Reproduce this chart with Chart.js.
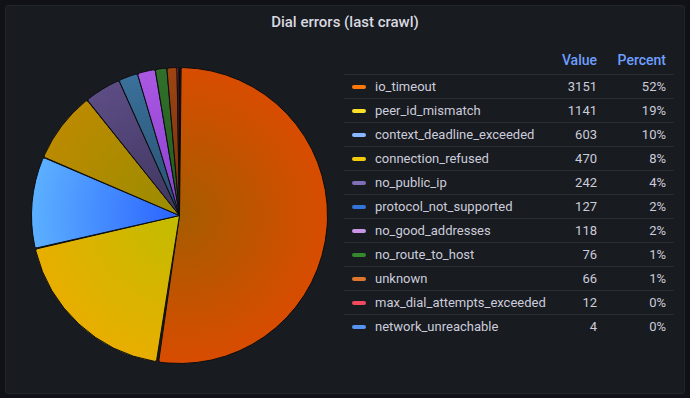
<!DOCTYPE html>
<html>
<head>
<meta charset="utf-8">
<script src="https://cdn.jsdelivr.net/npm/chart.js@4/dist/chart.umd.min.js"></script>
<style>
  html, body { margin: 0; padding: 0; background: #111217; width: 690px; height: 398px; overflow: hidden; }
  body { font-family: Roboto, "Noto Sans", sans-serif; color: #ccccdc; }
  .panel { position: absolute; left: 5px; top: 5px; width: 678px; height: 387px; background: #181b1f; border: 1px solid #22252b; border-radius: 3px; }
  .title { position: absolute; left: 0; top: 7px; width: 100%; text-align: center; font-size: 15px; font-weight: 500; color: #d8d9e0; }
  #pieWrap { position: absolute; left: 25px; top: 61px; width: 297px; height: 297px; }
  #legend { position: absolute; left: 338px; top: 42px; width: 330px; font-size: 13px; }
  .row { position: relative; height: 23px; border-bottom: 1px solid #2a2d33; }
  .row:last-child { border-bottom: none; }
  .head { height: 26px; }
  .head span { position: absolute; top: 4px; color: #6e9fff; font-size: 14px; font-weight: 500; }
  .sw { position: absolute; left: 8px; top: 10px; width: 14px; height: 4px; border-radius: 2px; }
  .lab { position: absolute; left: 31px; top: 4px; }
  .val { position: absolute; right: 77px; top: 4px; text-align: right; }
  .pct { position: absolute; right: 8px; top: 4px; text-align: right; }
</style>
</head>
<body>
<div class="panel">
  <div class="title">Dial errors (last crawl)</div>
  <div id="pieWrap"><canvas id="pie"></canvas></div>
  <div id="legend"></div>
</div>
<script>
// data
var labels = ["io_timeout", "peer_id_mismatch", "context_deadline_exceeded", "connection_refused",
  "no_public_ip", "protocol_not_supported", "no_good_addresses", "no_route_to_host",
  "unknown", "max_dial_attempts_exceeded", "network_unreachable"];
var values = [3151, 1141, 603, 470, 242, 127, 118, 76, 66, 12, 4];

// legend swatch colours and pie gradient stops (center -> edge)
var swatch = ["#ff780a", "#fade2a", "#8ab8ff", "#f2cc0c", "#806eb7", "#3274d9", "#ca95e5", "#37872d", "#e0752d", "#f2495c", "#5794f2"];
var inner = ["#a65c00", "#c2bc00", "#2a62ff", "#9a8c00", "#3f365e", "#27506e", "#8a3ed0", "#225a1c", "#76300c", "#c02040", "#3a66d0"];
var outer = ["#d84c00", "#e8ae00", "#5cb0ff", "#bb8a00", "#5c4c84", "#3a709a", "#aa58e2", "#30702a", "#9e4412", "#e8304c", "#4a7ae8"];

var total = values.reduce(function (a, b) { return a + b; }, 0);

// legend table
var legend = document.getElementById("legend");
var html = '<div class="row head"><span style="right:77px">Value</span><span style="right:8px">Percent</span></div>';
labels.forEach(function (name, i) {
  html += '<div class="row">' +
    '<div class="sw" style="background:' + swatch[i] + '"></div>' +
    '<div class="lab">' + name + '</div>' +
    '<div class="val">' + values[i] + '</div>' +
    '<div class="pct">' + Math.round(values[i] / total * 100) + '%</div>' +
    '</div>';
});
legend.innerHTML = html;

function sliceFill(ctx) {
  var chart = ctx.chart;
  var area = chart.chartArea;
  var i = ctx.dataIndex;
  if (!area) return outer[i];
  var cx = (area.left + area.right) / 2;
  var cy = (area.top + area.bottom) / 2;
  var r = Math.min(area.right - area.left, area.bottom - area.top) / 2;
  var g = chart.ctx.createRadialGradient(cx, cy, 0, cx, cy, r);
  g.addColorStop(0, inner[i]);
  g.addColorStop(1, outer[i]);
  return g;
}

new Chart(document.getElementById("pie").getContext("2d"), {
  type: "pie",
  data: {
    labels: labels,
    datasets: [{
      data: values,
      backgroundColor: sliceFill,
      borderColor: "#0c0d10",
      borderWidth: 1,
      borderRadius: 2,
      spacing: 1
    }]
  },
  options: {
    responsive: true,
    maintainAspectRatio: false,
    animation: false,
    layout: { padding: 0 },
    plugins: {
      legend: { display: false },
      tooltip: { enabled: false }
    }
  }
});
</script>
</body>
</html>
